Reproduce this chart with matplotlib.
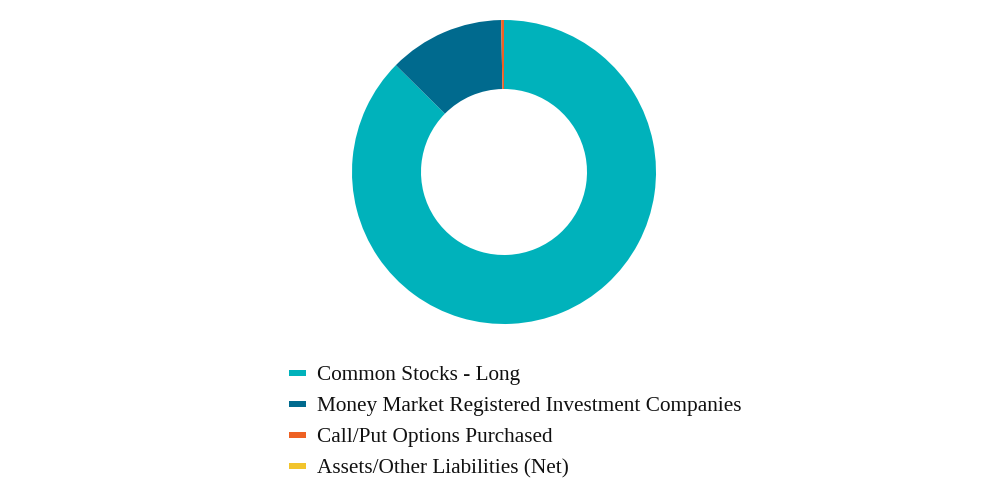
import matplotlib
matplotlib.use("Agg")
import matplotlib.pyplot as plt
from matplotlib.patches import Rectangle

categories = ["Common Stocks - Long", "Money Market Registered Investment Companies",
              "Call/Put Options Purchased", "Assets/Other Liabilities (Net)"]
values = [87.4, 12.3, 0.3, 0.0]
colors = ["#00b2bb", "#006a8e", "#ee6123", "#f2c42c"]

plt.rcParams['font.family'] = ['Liberation Serif', 'DejaVu Serif']

fig = plt.figure(figsize=(10.08, 4.8), dpi=100)
r = 152
cx, cy = 504, 172
ax = fig.add_axes([(cx - r) / 1008, (480 - cy - r) / 480, 2 * r / 1008, 2 * r / 480])
ax.pie(values, colors=colors, startangle=90, counterclock=False,
       wedgeprops=dict(width=69 / 152, linewidth=0), radius=1.0)
ax.set_xlim(-1, 1)
ax.set_ylim(-1, 1)
ax.set_aspect('equal')
ax.axis('off')

ys = [373, 404, 435, 466]
for lab, col, y in zip(categories, colors, ys):
    fig.patches.append(Rectangle((289 / 1008, (480 - y - 3) / 480), 17 / 1008, 6 / 480,
                                 transform=fig.transFigure, color=col, linewidth=0))
    fig.text(317 / 1008, (480 - y - 2.5) / 480, lab, fontsize=15.3, va='center', ha='left', color='#111111')

fig.savefig("out.png", dpi=100)
